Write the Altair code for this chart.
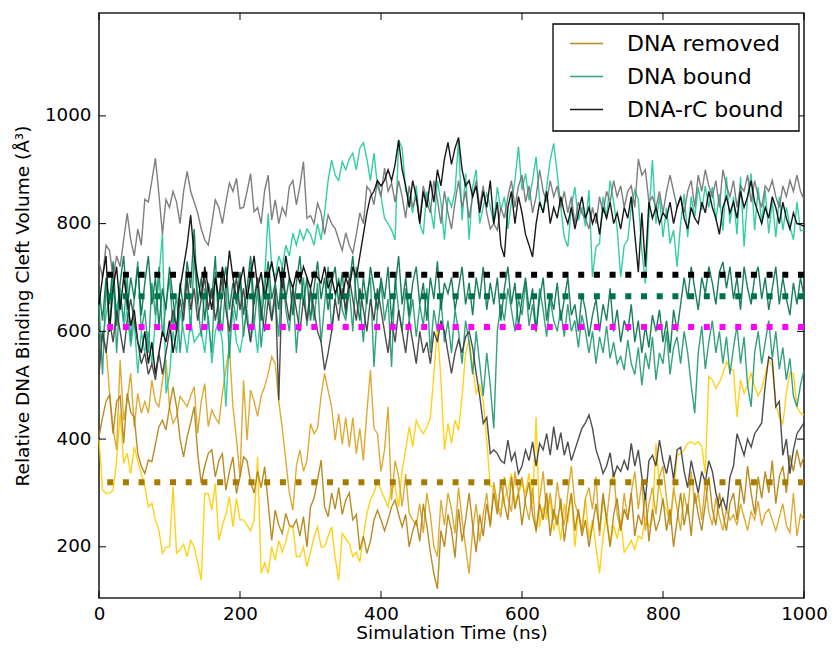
import altair as alt
import pandas as pd

# ---------------- data (5 ns spacing) ----------------
removed_a = [
400, 306, 299, 300, 305, 360, 448, 355, 374, 336,
386, 360, 336, 312, 274, 281, 250, 231, 188, 200,
200, 312, 188, 195, 205, 182, 212, 200, 170, 138,
299, 299, 268, 318, 212, 240, 260, 293, 237, 290,
250, 250, 240, 230, 250, 367, 151, 170, 151, 200,
175, 212, 190, 210, 237, 237, 182, 182, 200, 163,
190, 218, 237, 200, 200, 220, 237, 180, 138, 225,
215, 206, 182, 190, 172, 220, 262, 287, 300, 324,
305, 290, 274, 312, 312, 274, 342, 380, 423, 386,
435, 420, 410, 423, 440, 520, 609, 510, 380, 429,
392, 435, 416, 480, 559, 584, 535, 485, 500, 472,
398, 312, 312, 274, 268, 290, 305, 336, 280, 300,
317, 300, 336, 280, 441, 237, 274, 250, 290, 230,
260, 212, 280, 245, 300, 200, 265, 230, 290, 215,
250, 200, 151, 220, 260, 205, 240, 215, 250, 190,
200, 212, 195, 220, 215, 256, 237, 250, 392, 312,
280, 268, 244, 300, 370, 373, 380, 392, 395, 390,
395, 386, 336, 516, 510, 494, 505, 522, 544, 530,
528, 441, 510, 485, 500, 522, 497, 480, 494, 520,
547, 534, 466, 440, 429, 485, 523, 522, 460, 448,
445]

removed_b = [
600, 590, 571, 485, 420, 380, 547, 435, 472, 522,
423, 485, 448, 470, 448, 509, 470, 460, 509, 547,
460, 429, 442, 479, 470, 460, 480, 497, 411, 470,
503, 423, 454, 440, 429, 485, 530, 571, 460, 400,
330, 509, 398, 491, 470, 442, 480, 497, 522, 553,
540, 470, 420, 360, 300, 268, 350, 380, 340, 360,
429, 410, 420, 480, 522, 490, 460, 398, 447, 390,
440, 385, 440, 373, 420, 360, 450, 528, 420, 410,
340, 380, 460, 287, 360, 330, 275, 335, 262, 250,
240, 280, 226, 300, 260, 200, 182, 287, 240, 300,
270, 225, 310, 250, 200, 150, 230, 280, 210, 260,
300, 236, 320, 280, 255, 330, 290, 265, 340, 300,
330, 280, 250, 310, 226, 290, 340, 260, 300, 250,
320, 270, 240, 300, 350, 280, 260, 230, 290, 310,
270, 330, 220, 290, 250, 310, 340, 260, 230, 300,
250, 300, 340, 270, 320, 230, 280, 310, 260, 330,
350, 290, 240, 310, 270, 230, 300, 260, 340, 280,
300, 250, 320, 265, 240, 290, 255, 230, 270, 250,
260, 240, 280, 255, 230, 265, 250, 285, 240, 262,
270, 250, 230, 255, 280, 240, 226, 300, 220, 260,
250]

removed_c = [
404, 440, 470, 482, 410, 470, 480, 392, 485, 450,
441, 373, 350, 336, 361, 358, 390, 423, 435, 417,
460, 497, 460, 400, 367, 404, 430, 460, 373, 318,
350, 373, 380, 330, 360, 373, 305, 340, 367, 299,
330, 367, 360, 320, 300, 340, 310, 349, 280, 212,
268, 240, 225, 262, 240, 237, 250, 220, 256, 200,
274, 290, 324, 361, 274, 256, 300, 270, 310, 260,
287, 300, 250, 260, 194, 220, 188, 210, 250, 268,
250, 230, 250, 274, 287, 260, 237, 260, 200, 230,
250, 210, 280, 240, 190, 150, 122, 230, 200, 260,
230, 180, 270, 210, 250, 300, 240, 190, 260, 220,
280, 240, 300, 260, 320, 280, 250, 330, 270, 300,
240, 290, 320, 260, 230, 280, 250, 300, 220, 270,
240, 290, 210, 260, 300, 230, 270, 220, 250, 200,
240, 280, 230, 300, 250, 200, 260, 290, 230, 270,
250, 300, 220, 260, 240, 300, 210, 270, 230, 250,
290, 230, 270, 200, 250, 300, 240, 280, 220, 300,
260, 230, 280, 330, 270, 240, 300, 260, 230, 280,
300, 250, 320, 280, 350, 300, 260, 330, 290, 340,
300, 360, 280, 330, 350, 300, 370, 340, 380, 350,
367]

bound_a = [
600, 584, 630, 665, 690, 640, 680, 610, 640, 571,
620, 522, 600, 560, 600, 540, 620, 700, 782, 485,
520, 600, 560, 640, 600, 560, 620, 580, 590, 600,
560, 630, 541, 600, 620, 580, 460, 590, 640, 580,
560, 600, 640, 580, 620, 560, 650, 700, 819, 720,
700, 740, 720, 760, 740, 782, 760, 788, 770, 790,
780, 760, 800, 770, 820, 880, 918, 890, 880, 915,
900, 920, 931, 900, 940, 950, 920, 880, 931, 870,
850, 810, 800, 788, 770, 955, 940, 860, 850, 820,
870, 800, 780, 860, 830, 790, 880, 840, 770, 850,
831, 860, 955, 806, 893, 770, 868, 900, 800, 831,
856, 831, 800, 868, 825, 850, 790, 840, 880, 943,
862, 893, 843, 880, 924, 843, 820, 868, 918, 949,
893, 831, 775, 757, 831, 868, 806, 831, 795, 862,
701, 757, 763, 850, 810, 880, 840, 790, 701, 760,
770, 830, 862, 845, 750, 689, 812, 918, 800, 850,
775, 830, 763, 788, 720, 800, 855, 775, 850, 812,
868, 825, 870, 830, 868, 806, 855, 787, 887, 800,
850, 780, 887, 757, 850, 893, 788, 868, 800, 862,
782, 843, 775, 850, 788, 830, 795, 770, 840, 787,
788]

bound_b = [
650, 520, 690, 600, 720, 560, 670, 620, 700, 580,
660, 730, 600, 640, 560, 690, 630, 720, 590, 650,
700, 610, 670, 560, 640, 700, 600, 740, 650, 590,
680, 620, 560, 710, 640, 600, 690, 550, 660, 620,
700, 590, 650, 720, 610, 680, 570, 640, 700, 620,
660, 590, 720, 640, 600, 680, 560, 650, 700, 610,
670, 620, 690, 580, 650, 720, 600, 660, 700, 640,
620, 680, 600, 720, 650, 580, 670, 700, 534, 640,
690, 620, 660, 534, 700, 640, 600, 680, 620, 660,
590, 650, 610, 680, 560, 640, 600, 660, 580, 620,
560, 640, 600, 540, 620, 580, 520, 600, 540, 480,
560, 500, 420, 600, 650, 620, 680, 640, 600, 660,
630, 690, 610, 650, 600, 680, 640, 590, 660, 620,
600, 640, 590, 650, 600, 620, 570, 630, 600, 560,
600, 540, 590, 560, 610, 550, 580, 540, 553, 528,
584, 540, 520, 570, 500, 560, 530, 590, 510, 560,
540, 600, 520, 570, 590, 540, 600, 560, 500, 448,
560, 610, 530, 580, 620, 560, 600, 540, 590, 520,
570, 610, 540, 590, 500, 460, 560, 600, 540, 580,
620, 550, 600, 530, 570, 510, 550, 480, 460, 500,
528]

bound_c = [
680, 620, 700, 650, 730, 610, 690, 740, 640, 700,
660, 720, 630, 690, 740, 650, 700, 610, 680, 640,
720, 660, 600, 690, 640, 730, 680, 790, 650, 700,
620, 690, 660, 740, 600, 680, 720, 640, 690, 650,
710, 630, 680, 740, 650, 700, 620, 680, 730, 660,
690, 640, 720, 660, 700, 630, 690, 740, 650, 700,
620, 680, 730, 660, 700, 640, 690, 720, 650, 710,
630, 690, 740, 660, 620, 700, 650, 720, 680, 640,
700, 660, 720, 620, 680, 740, 650, 700, 630, 690,
720, 650, 690, 620, 700, 660, 730, 640, 690, 670,
700, 640, 680, 720, 650, 690, 630, 700, 660, 720,
640, 690, 650, 700, 620, 680, 720, 650, 690, 610,
660, 700, 640, 680, 600, 660, 700, 620, 670, 640,
690, 620, 660, 700, 630, 650, 600, 670, 640, 590,
630, 660, 600, 650, 620, 680, 600, 640, 580, 620,
600, 650, 580, 620, 560, 610, 570, 630, 600, 640,
580, 620, 560, 640, 600, 650, 700, 660, 720, 680,
640, 700, 670, 720, 690, 650, 710, 729, 680, 720,
660, 700, 640, 720, 680, 650, 700, 720, 660, 700,
640, 680, 720, 650, 700, 660, 630, 690, 650, 700,
664]

rc_a = [
730, 700, 760, 750, 700, 740, 720, 770, 819, 770,
740, 790, 760, 845, 840, 880, 921, 855, 780, 845,
830, 860, 840, 800, 860, 897, 860, 840, 820, 790,
770, 760, 800, 844, 830, 800, 840, 875, 860, 884,
828, 830, 860, 893, 822, 830, 800, 862, 890, 807,
844, 800, 830, 815, 869, 880, 835, 870, 915, 810,
815, 800, 838, 820, 780, 816, 800, 791, 770, 750,
783, 760, 745, 780, 820, 800, 869, 860, 835, 880,
850, 903, 860, 875, 840, 880, 850, 810, 870, 830,
850, 805, 870, 840, 820, 880, 845, 800, 860, 820,
790, 840, 880, 830, 860, 810, 850, 880, 830, 870,
820, 790, 800, 788, 830, 810, 850, 880, 830, 870,
890, 840, 870, 820, 850, 900, 860, 840, 880, 850,
870, 830, 860, 820, 850, 800, 840, 820, 810, 790,
830, 800, 850, 820, 860, 840, 880, 850, 870, 830,
860, 870, 830, 920, 890, 900, 840, 850, 830, 860,
820, 860, 890, 860, 830, 850, 820, 860, 880, 830,
890, 860, 900, 870, 850, 880, 830, 900, 870, 850,
880, 830, 870, 860, 890, 840, 880, 850, 830, 870,
860, 880, 850, 830, 870, 850, 880, 860, 890, 860,
845]

rc_b = [
650, 700, 740, 600, 680, 720, 640, 700, 660, 610,
640, 580, 560, 600, 540, 580, 520, 560, 600, 580,
620, 560, 600, 680, 720, 760, 816, 740, 700, 660,
720, 680, 640, 700, 660, 720, 680, 750, 700, 660,
690, 720, 660, 700, 740, 680, 710, 660, 700, 730,
690, 720, 680, 740, 700, 680, 710, 690, 720, 700,
680, 710, 700, 690, 720, 680, 700, 670, 690, 660,
700, 680, 720, 700, 740, 780, 820, 850, 860, 880,
870, 880, 900, 880, 910, 955, 900, 870, 830, 880,
850, 800, 860, 830, 880, 840, 900, 870, 920, 951,
910, 940, 960, 900, 870, 880, 850, 870, 820, 860,
830, 880, 800, 840, 760, 738, 830, 860, 800, 850,
820, 780, 760, 738, 800, 840, 820, 860, 800, 830,
810, 850, 820, 800, 830, 790, 820, 850, 810, 830,
800, 820, 780, 830, 810, 840, 800, 820, 790, 830,
810, 850, 780, 710, 820, 720, 840, 810, 830, 800,
820, 810, 840, 800, 830, 850, 810, 790, 830, 810,
800, 840, 820, 860, 830, 810, 780, 830, 850, 820,
840, 810, 860, 830, 850, 880, 840, 820, 800, 830,
810, 850, 830, 800, 840, 810, 790, 820, 800, 798,
795]

rc_c = [
520, 600, 560, 620, 580, 640, 600, 560, 620, 660,
620, 580, 540, 560, 520, 540, 510, 560, 520, 560,
600, 640, 600, 660, 620, 700, 640, 680, 620, 660,
700, 640, 680, 620, 660, 700, 640, 600, 660, 700,
640, 680, 620, 580, 660, 700, 640, 600, 660, 620,
680, 472, 700, 660, 620, 680, 640, 600, 660, 620,
680, 640, 600, 580, 528, 560, 600, 660, 620, 680,
640, 700, 660, 620, 680, 640, 600, 660, 620, 680,
640, 600, 560, 620, 580, 640, 600, 560, 620, 580,
540, 600, 560, 580, 540, 600, 580, 620, 600, 560,
522, 560, 584, 560, 590, 600, 570, 522, 480, 429,
440, 373, 380, 373, 360, 355, 398, 360, 375, 336,
350, 380, 360, 395, 350, 392, 380, 410, 370, 423,
380, 412, 370, 395, 360, 380, 400, 420, 430, 445,
420, 380, 360, 336, 350, 375, 330, 350, 340, 360,
342, 392, 350, 380, 330, 287, 360, 370, 350, 398,
360, 336, 370, 325, 380, 385, 340, 310, 360, 330,
300, 340, 320, 360, 340, 300, 274, 290, 268, 330,
350, 410, 390, 370, 400, 385, 410, 420, 430, 500,
553, 548, 460, 470, 370, 400, 336, 380, 410, 420,
430]

series_names = ["DNA removed (a)", "DNA removed (b)", "DNA removed",
                "DNA bound (a)", "DNA bound", "DNA bound (c)",
                "DNA-rC bound (a)", "DNA-rC bound", "DNA-rC bound (c)"]
series_values = [removed_a, removed_b, removed_c,
                 bound_a, bound_b, bound_c,
                 rc_a, rc_b, rc_c]
series_colors = ["#FFCC00", "#D9A21E", "#B07F0C",
                 "#1FC89C", "#1E9672", "#00704A",
                 "#707070", "#000000", "#3A3A3A"]
legend_entries = ["DNA removed", "DNA bound", "DNA-rC bound"]

mean_levels = [705, 665, 608, 320]
mean_colors = ["#000000", "#007048", "#FF00FF", "#A67C00"]

x_ticks = [0, 200, 400, 600, 800, 1000]
y_ticks = [200, 400, 600, 800, 1000]

# ---------------- build tables ----------------
rows = []
for name, vals in zip(series_names, series_values):
    n = len(vals)
    for i, v in enumerate(vals):
        rows.append({"t": 1000.0 * i / (n - 1), "v": v, "series": name})
df = pd.DataFrame(rows)
means_df = pd.DataFrame({"v": mean_levels, "level": [str(m) for m in mean_levels]})
xt_df = pd.DataFrame({"t": x_ticks})
yt_df = pd.DataFrame({"v": y_ticks})

W, H = 705, 585
FONT = "DejaVu Sans"

x_scale = alt.Scale(domain=[0, 1000], nice=False)
y_scale = alt.Scale(domain=[105, 1191], nice=False, zero=False)

x_enc = alt.X("t:Q", scale=x_scale,
              axis=alt.Axis(values=x_ticks, title="Simulation Time (ns)", ticks=False,
                            domain=False, grid=False, labelFontSize=18.3, titleFontSize=18.5,
                            labelPadding=7, titlePadding=1, labelFlush=False,
                            labelColor="black", titleColor="black", titleFontWeight="normal",
                            format="d"))
y_enc = alt.Y("v:Q", scale=y_scale,
              axis=alt.Axis(values=y_ticks, title="Relative DNA Binding Cleft Volume (Å³)",
                            ticks=False, domain=False, grid=False, labelFontSize=18.3,
                            titleFontSize=18.5, labelPadding=8, titlePadding=12,
                            labelFlush=False, labelColor="black", titleColor="black",
                            titleFontWeight="normal", format="d"))

lines = alt.Chart(df).mark_line(strokeWidth=1.4, opacity=0.9).encode(
    x=x_enc,
    y=y_enc,
    color=alt.Color("series:N",
                    scale=alt.Scale(domain=series_names, range=series_colors),
                    legend=alt.Legend(values=legend_entries, orient="none", legendX=470,
                                      legendY=13, title=None, symbolType="stroke",
                                      symbolSize=1089, symbolStrokeWidth=1.6,
                                      labelFontSize=22, labelFont=FONT, labelOffset=23,
                                      labelLimit=400, rowPadding=4, padding=0,
                                      labelColor="black")),
    detail="series:N",
)

means = alt.Chart(means_df).mark_rule(strokeWidth=6, strokeDash=[6, 9.7], strokeCap="butt").encode(
    y=alt.Y("v:Q", scale=y_scale),
    stroke=alt.Stroke("level:N",
                      scale=alt.Scale(domain=[str(m) for m in mean_levels], range=mean_colors),
                      legend=None),
)

legend_box = alt.Chart(pd.DataFrame({"k": [0]})).mark_rect(
    fill="white", stroke="black", strokeWidth=1.3).encode(
    x=alt.value(454), x2=alt.value(700), y=alt.value(11), y2=alt.value(118))

tick_style = dict(color="black", strokeWidth=1)
yt_left = alt.Chart(yt_df).mark_rule(**tick_style).encode(
    y=alt.Y("v:Q", scale=y_scale), x=alt.value(0), x2=alt.value(7))
yt_right = alt.Chart(yt_df).mark_rule(**tick_style).encode(
    y=alt.Y("v:Q", scale=y_scale), x=alt.value(W - 7), x2=alt.value(W))
xt_bottom = alt.Chart(xt_df).mark_rule(**tick_style).encode(
    x=alt.X("t:Q", scale=x_scale), y=alt.value(H - 7), y2=alt.value(H))
xt_top = alt.Chart(xt_df).mark_rule(**tick_style).encode(
    x=alt.X("t:Q", scale=x_scale), y=alt.value(0), y2=alt.value(7))

chart = alt.layer(lines, means, yt_left, yt_right, xt_bottom, xt_top, legend_box).properties(
    width=W, height=H,
    autosize=alt.AutoSizeParams(type="none"),
    padding={"left": 91, "top": 5, "right": 24, "bottom": 46},
).configure(font=FONT).configure_view(stroke="#222222", strokeWidth=1.6)

chart.save("out.html", embed_options={"renderer": "svg", "actions": False})
